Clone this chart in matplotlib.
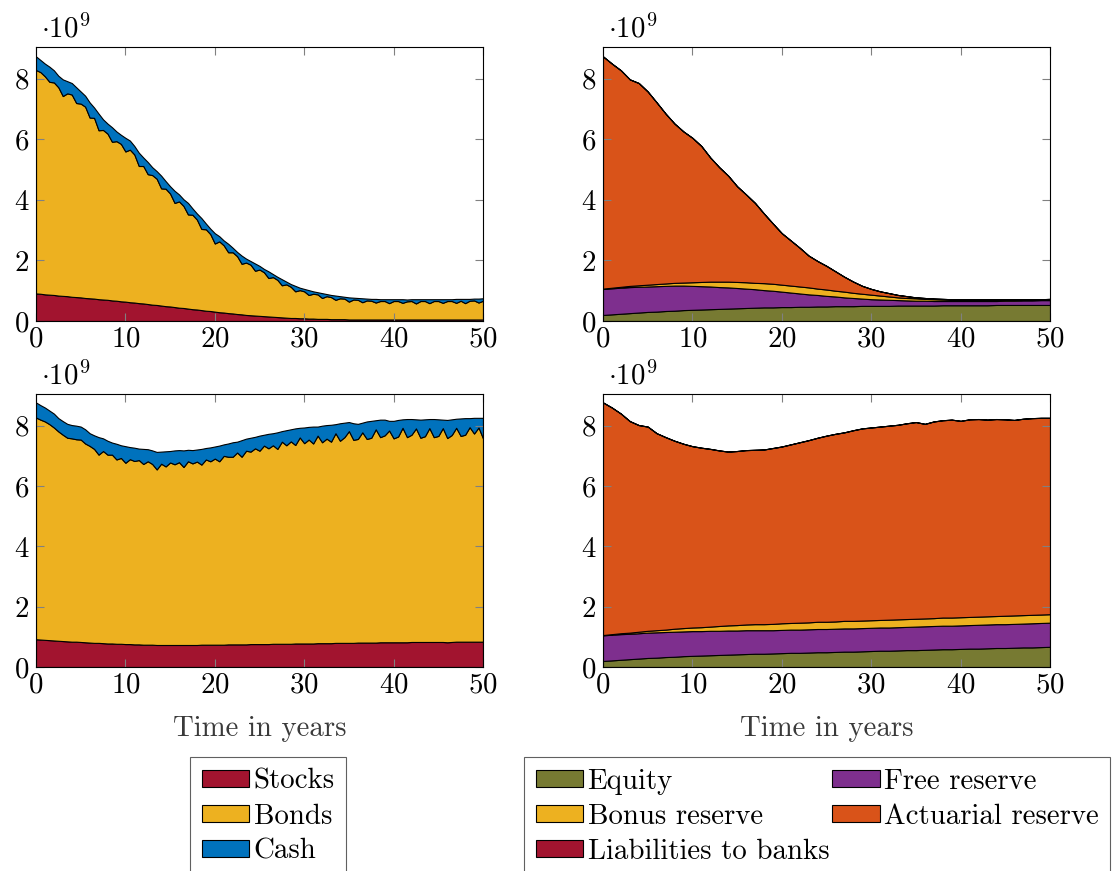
import numpy as np
import matplotlib
matplotlib.use('Agg')
import matplotlib.pyplot as plt

plt.rcParams['font.family'] = 'cmr10'
plt.rcParams['mathtext.fontset'] = 'cm'
plt.rcParams['axes.formatter.use_mathtext'] = True
plt.rcParams['font.size'] = 20.8

# values in units of 1e9
t_half = np.arange(0, 50.5, 0.5)   # left panels, half-yearly
t_year = np.arange(0, 51)          # right panels, yearly

# ---- scenario 1, assets (top left)
stocks_1 = [.91, .90, .88, .87, .86, .84, .83, .82, .80, .79,
            .78, .76, .75, .74, .72, .71, .70, .68, .67, .65,
            .64, .62, .61, .59, .58, .56, .54, .53, .51, .49,
            .48, .46, .44, .43, .41, .39, .38, .36, .34, .33,
            .31, .29, .28, .26, .25, .23, .22, .20, .19, .18,
            .17, .16, .15, .14, .13, .12, .11, .10, .10, .09,
            .09, .08, .08, .07, .07, .07, .06, .06, .06, .06,
            .05, .05, .05, .05, .05, .05, .05, .05, .05, .05,
            .05, .05, .05, .05, .05, .05, .05, .05, .05, .05,
            .05, .05, .05, .05, .05, .05, .05, .05, .05, .05,
            .05]
bonds_1 = [7.38, 7.32, 7.20, 7.03, 7.02, 6.88, 6.60, 6.70, 6.68, 6.41,
           6.40, 6.32, 5.97, 5.97, 5.58, 5.60, 5.49, 5.24, 5.27, 5.20,
           4.96, 5.04, 4.89, 4.53, 4.54, 4.29, 4.28, 4.17, 3.87, 3.88,
           3.73, 3.44, 3.51, 3.37, 3.11, 3.12, 2.97, 2.68, 2.69, 2.54,
           2.25, 2.34, 2.22, 2.01, 2.02, 1.91, 1.67, 1.73, 1.67, 1.48,
           1.53, 1.45, 1.27, 1.31, 1.23, 1.06, 1.10, 1.03, 0.88, 0.93,
           0.89, 0.78, 0.82, 0.81, 0.69, 0.75, 0.73, 0.64, 0.69, 0.68,
           0.59, 0.66, 0.65, 0.57, 0.63, 0.62, 0.56, 0.61, 0.61, 0.54,
           0.61, 0.61, 0.55, 0.60, 0.61, 0.53, 0.61, 0.61, 0.54, 0.61,
           0.61, 0.55, 0.61, 0.61, 0.55, 0.62, 0.54, 0.62, 0.63, 0.56,
           0.62]
cash_1 = [.45, .40, .42, .50, .40, .38, .55, .40, .38, .52,
          .40, .36, .50, .34, .55, .35, .33, .48, .32, .30,
          .45, .30, .28, .44, .28, .40, .26, .25, .42, .25,
          .24, .40, .23, .22, .38, .21, .20, .36, .19, .18,
          .34, .17, .16, .28, .15, .14, .27, .13, .12, .24,
          .12, .11, .22, .10, .10, .20, .09, .09, .18, .08,
          .08, .16, .08, .07, .16, .07, .07, .14, .07, .06,
          .14, .06, .06, .13, .06, .06, .12, .06, .06, .13,
          .06, .06, .12, .06, .06, .14, .06, .06, .13, .06,
          .06, .12, .06, .06, .13, .06, .14, .06, .06, .13,
          .08]

# ---- scenario 1, liabilities (top right)
equity_1 = [.20, .22, .24, .26, .28, .30, .31, .33, .34, .36,
            .37, .38, .39, .40, .41, .42, .43, .44, .45, .45,
            .46, .46, .47, .47, .48, .48, .49, .49, .49, .50,
            .50, .50, .50, .51, .51, .51, .51, .51, .52, .52,
            .52, .52, .52, .52, .53, .53, .53, .53, .53, .53,
            .53]
free_1 = [.86, .86, .86, .86, .85, .84, .84, .83, .83, .81,
          .79, .77, .75, .72, .70, .67, .64, .61, .57, .55,
          .51, .48, .44, .41, .38, .35, .32, .29, .27, .24,
          .22, .21, .20, .18, .17, .16, .16, .15, .14, .14,
          .14, .14, .14, .14, .13, .14, .14, .15, .15, .16,
          .16]
bonus_1 = [.01, .02, .03, .04, .05, .06, .07, .08, .09, .10,
           .12, .14, .16, .18, .19, .20, .21, .21, .23, .23,
           .23, .23, .23, .23, .21, .21, .19, .19, .17, .16,
           .15, .13, .11, .09, .08, .08, .06, .06, .05, .04,
           .04, .04, .04, .04, .04, .03, .03, .03, .03, .02,
           .02]
actuarial_1 = [7.67, 7.40, 7.15, 6.82, 6.68, 6.38, 6.00, 5.61, 5.26, 4.99,
               4.77, 4.49, 4.10, 3.78, 3.50, 3.16, 2.90, 2.64, 2.30, 1.99,
               1.70, 1.49, 1.28, 1.05, 0.91, 0.78, 0.64, 0.49, 0.37, 0.26,
               0.19, 0.14, 0.11, 0.08, 0.06, 0.03, 0.03, 0.02, 0.02, 0.02,
               0.02, 0.02, 0.02, 0.02, 0.02, 0.02, 0.02, 0.01, 0.01, 0.01,
               0.02]
banks_1 = [0.0] * 51

# ---- scenario 2, assets (bottom left)
stocks_2 = [.92, .91, .90, .89, .88, .87, .86, .85, .84, .84,
            .83, .82, .81, .80, .80, .79, .78, .78, .77, .77,
            .76, .76, .75, .75, .74, .74, .74, .73, .73, .73,
            .73, .73, .73, .73, .73, .73, .73, .74, .74, .74,
            .74, .74, .74, .75, .75, .75, .75, .75, .76, .76,
            .76, .76, .76, .77, .77, .77, .77, .77, .78, .78,
            .78, .78, .78, .79, .79, .79, .79, .80, .80, .80,
            .80, .80, .81, .81, .81, .81, .81, .82, .82, .82,
            .82, .82, .82, .82, .83, .83, .83, .83, .83, .83,
            .83, .83, .82, .83, .84, .84, .84, .84, .84, .84,
            .84]
bonds_2 = [7.35, 7.29, 7.24, 7.16, 7.06, 6.94, 6.84, 6.75, 6.74, 6.71,
           6.71, 6.59, 6.52, 6.43, 6.24, 6.37, 6.26, 6.26, 6.11, 6.16,
           6.01, 6.13, 6.08, 6.11, 5.99, 6.08, 5.99, 5.82, 6.01, 5.92,
           6.05, 5.99, 6.06, 5.90, 6.09, 6.02, 6.08, 5.97, 6.14, 6.08,
           6.17, 6.08, 6.26, 6.22, 6.22, 6.36, 6.22, 6.42, 6.38, 6.49,
           6.41, 6.58, 6.49, 6.58, 6.46, 6.70, 6.58, 6.71, 6.58, 6.83,
           6.64, 6.76, 6.63, 6.88, 6.66, 6.78, 6.68, 6.95, 6.70, 6.82,
           7.02, 6.73, 6.75, 6.97, 6.75, 6.79, 7.07, 6.80, 6.86, 7.02,
           6.76, 6.82, 7.11, 6.80, 6.87, 7.08, 6.77, 6.82, 7.09, 6.79,
           6.83, 7.09, 6.77, 6.86, 7.09, 6.82, 6.86, 7.11, 6.90, 7.10,
           6.74]
cash_2 = [.50, .48, .46, .45, .46, .44, .45, .46, .44, .45,
          .43, .47, .42, .45, .58, .42, .46, .40, .52, .42,
          .55, .40, .44, .38, .50, .40, .45, .58, .40, .50,
          .38, .46, .40, .55, .38, .44, .40, .52, .38, .46,
          .40, .52, .38, .44, .48, .36, .55, .40, .46, .38,
          .50, .36, .48, .40, .55, .35, .50, .40, .55, .32,
          .52, .42, .56, .30, .55, .45, .56, .30, .58, .48,
          .30, .55, .50, .32, .58, .56, .30, .58, .52, .32,
          .58, .55, .28, .60, .52, .30, .60, .56, .30, .60,
          .55, .28, .60, .52, .30, .58, .55, .30, .52, .32,
          .68]

# ---- scenario 2, liabilities (bottom right)
equity_2 = [.20, .22, .24, .26, .28, .30, .31, .33, .34, .36,
            .37, .38, .39, .40, .41, .42, .43, .44, .44, .45,
            .46, .47, .47, .48, .49, .49, .50, .51, .51, .52,
            .53, .54, .54, .55, .56, .56, .57, .58, .59, .59,
            .60, .61, .61, .62, .63, .63, .64, .65, .65, .66,
            .67]
free_2 = [.85, .85, .85, .84, .84, .84, .84, .83, .83, .82,
          .82, .81, .81, .80, .80, .79, .79, .78, .78, .77,
          .77, .77, .77, .77, .77, .77, .77, .77, .77, .77,
          .77, .77, .77, .77, .77, .78, .78, .78, .78, .78,
          .78, .78, .79, .79, .79, .79, .79, .79, .80, .80,
          .80]
bonus_2 = [.01, .02, .03, .04, .05, .06, .07, .08, .10, .11,
           .12, .13, .14, .16, .17, .18, .19, .20, .20, .21,
           .22, .22, .23, .23, .24, .24, .24, .25, .25, .25,
           .25, .25, .26, .26, .26, .26, .26, .26, .27, .27,
           .27, .27, .27, .27, .27, .28, .28, .28, .28, .28,
           .28]
actuarial_2 = [7.71, 7.51, 7.28, 7.01, 6.85, 6.77, 6.53, 6.38, 6.23, 6.11,
               6.01, 5.95, 5.89, 5.82, 5.76, 5.77, 5.78, 5.78, 5.79, 5.83,
               5.86, 5.92, 5.98, 6.04, 6.10, 6.17, 6.22, 6.25, 6.32, 6.37,
               6.39, 6.41, 6.43, 6.45, 6.49, 6.52, 6.45, 6.52, 6.54, 6.56,
               6.51, 6.55, 6.55, 6.52, 6.53, 6.51, 6.48, 6.51, 6.52, 6.52,
               6.51]
banks_2 = [0.0] * 51

asset_labels = ['Stocks', 'Bonds', 'Cash']
asset_colors = ['#A2142F', '#EDB120', '#0072BD']
liab_labels = ['Equity', 'Free reserve', 'Bonus reserve', 'Actuarial reserve',
               'Liabilities to banks']
liab_colors = ['#777A32', '#7E2F8E', '#EDB120', '#D95319', '#A2142F']

W, H = 1115, 871


def box(l, t, r, b):
    return [l / W, 1 - b / H, (r - l) / W, (b - t) / H]


def style(ax, xlabel=False):
    ax.set_xlim(0, 50)
    ax.set_ylim(0, 9.05)
    ax.set_xticks(range(0, 51, 10))
    ax.set_yticks(range(0, 9, 2))
    ax.tick_params(direction='in', length=6, width=0.8, color='#808080',
                   labelcolor='black', top=True, right=True, labelsize=20.8)
    ax.tick_params(axis='x', pad=4)
    ax.tick_params(axis='y', pad=5)
    for s in ax.spines.values():
        s.set_linewidth(0.8)
    ax.text(0.012, 1.012, r'$\cdot10^{9}$', transform=ax.transAxes,
            fontsize=20.8, va='bottom', ha='left')
    if xlabel:
        ax.set_xlabel('Time in years', fontsize=20.8, color='#3a3a3a', labelpad=12)


fig = plt.figure(figsize=(W / 100, H / 100), dpi=100)
ax_tl = fig.add_axes(box(36, 47, 483, 321))
ax_tr = fig.add_axes(box(603, 47, 1050, 321))
ax_bl = fig.add_axes(box(36, 394, 483, 667))
ax_br = fig.add_axes(box(603, 394, 1050, 667))

kw = dict(edgecolor='black', linewidth=0.8)
assets = ax_tl.stackplot(t_half, stocks_1, bonds_1, cash_1,
                         colors=asset_colors, labels=asset_labels, **kw)
liabs = ax_tr.stackplot(t_year, equity_1, free_1, bonus_1, actuarial_1, banks_1,
                        colors=liab_colors, labels=liab_labels, **kw)
ax_bl.stackplot(t_half, stocks_2, bonds_2, cash_2, colors=asset_colors, **kw)
ax_br.stackplot(t_year, equity_2, free_2, bonus_2, actuarial_2, banks_2,
                colors=liab_colors, **kw)

style(ax_tl)
style(ax_tr)
style(ax_bl, xlabel=True)
style(ax_br, xlabel=True)

leg_kw = dict(loc='upper left', borderaxespad=0, fancybox=False, framealpha=1,
              edgecolor='#606060', handlelength=1.65, handleheight=0.5,
              handletextpad=0.15, labelspacing=0.3, borderpad=0.4, fontsize=20.8)
leg1 = fig.legend(assets, asset_labels, bbox_to_anchor=(190 / W, 1 - 757 / H), **leg_kw)
order = [0, 2, 4, 1, 3]
leg2 = fig.legend([liabs[i] for i in order], [liab_labels[i] for i in order],
                  ncol=2, columnspacing=0.1,
                  bbox_to_anchor=(524 / W, 1 - 757 / H), **leg_kw)
for lg in (leg1, leg2):
    lg.get_frame().set_linewidth(0.8)

fig.savefig('out.png', dpi=100)
